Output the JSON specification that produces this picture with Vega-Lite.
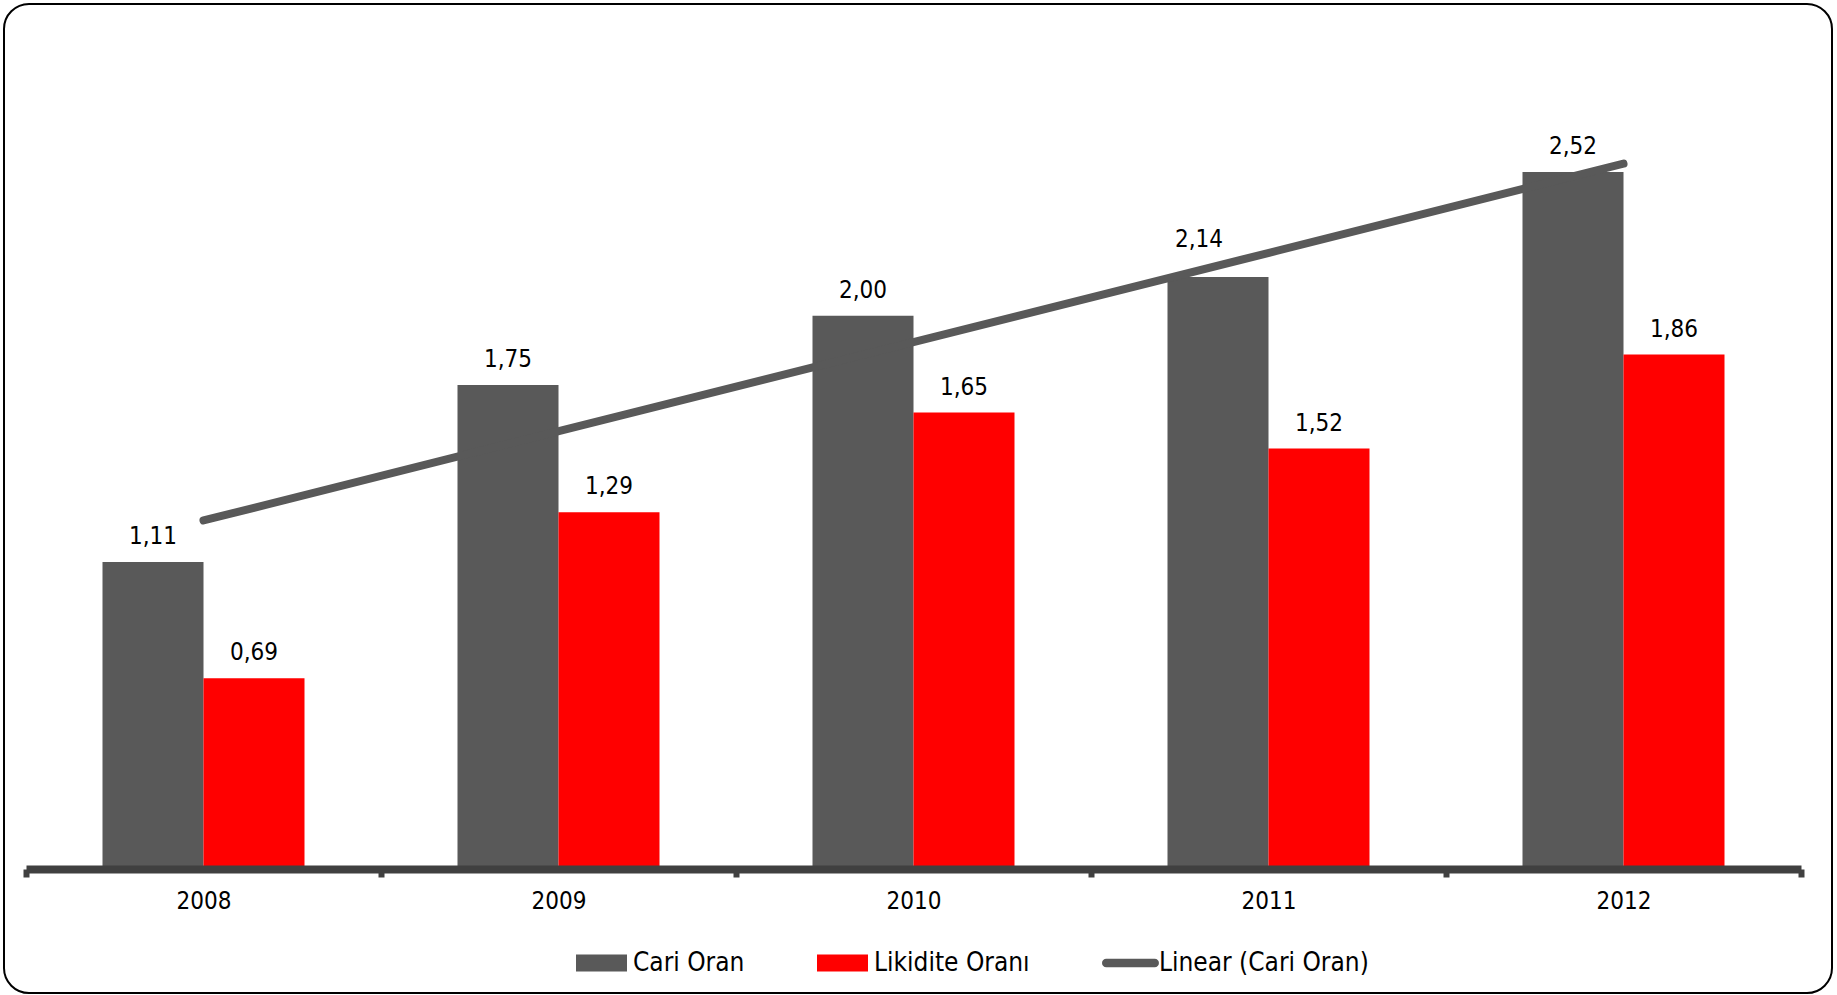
{
  "$schema": "https://vega.github.io/schema/vega-lite/v6.json",
  "width": 1828,
  "height": 989,
  "autosize": "none",
  "padding": {"left": 4, "top": 4, "right": 5, "bottom": 2},
  "background": "white",
  "config": {
    "view": {"stroke": "#000000", "strokeWidth": 2, "cornerRadius": 25, "fill": "white"},
    "font": "DejaVu Sans Condensed",
    "locale": {"number": {"decimal": ",", "thousands": ".", "grouping": [3], "currency": ["", " TL"]}}
  },
  "datasets": {
    "bars": [
      {"year": "2008", "series": "Cari Oran", "value": 1.11},
      {"year": "2008", "series": "Likidite Oranı", "value": 0.69},
      {"year": "2009", "series": "Cari Oran", "value": 1.75},
      {"year": "2009", "series": "Likidite Oranı", "value": 1.29},
      {"year": "2010", "series": "Cari Oran", "value": 2.00},
      {"year": "2010", "series": "Likidite Oranı", "value": 1.65},
      {"year": "2011", "series": "Cari Oran", "value": 2.14},
      {"year": "2011", "series": "Likidite Oranı", "value": 1.52},
      {"year": "2012", "series": "Cari Oran", "value": 2.52},
      {"year": "2012", "series": "Likidite Oranı", "value": 1.86}
    ],
    "trend": [
      {"year": "2008", "trend": 1.26},
      {"year": "2012", "trend": 2.55}
    ]
  },
  "encoding": {
    "x": {
      "field": "year",
      "type": "nominal",
      "title": null,
      "scale": {"range": [22, 1797], "paddingInner": 0, "paddingOuter": 0},
      "axis": {
        "offset": -124,
        "zindex": 1,
        "domainColor": "#404040",
        "domainWidth": 8,
        "tickBand": "extent",
        "tickColor": "#404040",
        "tickWidth": 6,
        "tickSize": 8,
        "labelAngle": 0,
        "labelFont": "DejaVu Sans Condensed",
        "labelFontSize": 24,
        "labelColor": "#000000",
        "labelPadding": 12
      }
    }
  },
  "layer": [
    {
      "data": {"name": "bars"},
      "mark": {"type": "bar"},
      "encoding": {
        "xOffset": {"field": "series", "type": "nominal", "scale": {"paddingInner": 0, "paddingOuter": 0.7574}},
        "y": {"field": "value", "type": "quantitative", "axis": null, "scale": {"domain": [-0.4483, 3.1273], "nice": false, "zero": false}},
        "color": {
          "field": "series",
          "type": "nominal",
          "scale": {
            "domain": ["Cari Oran", "Likidite Oranı", "Linear (Cari Oran)"],
            "range": ["#595959", "#FF0000", "#595959"]
          },
          "legend": {
            "title": null,
            "orient": "none",
            "direction": "horizontal",
            "legendX": 572,
            "legendY": 942,
            "padding": 0,
            "columnPadding": 72,
            "symbolSize": 1156,
            "labelOffset": 23,
            "labelFont": "DejaVu Sans Condensed",
            "labelFontSize": 26,
            "labelColor": "#000000",
            "labelLimit": 400,
            "encode": {
              "symbols": {
                "update": {
                  "shape": {"signal": "datum.value === 'Linear (Cari Oran)' ? 'M-0.75,-0.25H2.1A0.25,0.25,0,0,1,2.1,0.25H-0.75A0.25,0.25,0,0,1,-0.75,-0.25Z' : 'M-1,-0.5H2V0.5H-1Z'"},
                  "fill": {"scale": "color", "field": "value"},
                  "strokeWidth": {"value": 0},
                  "opacity": {"value": 1}
                }
              }
            }
          }
        }
      }
    },
    {
      "data": {"name": "bars"},
      "transform": [{"filter": "!(datum.year === '2011' && datum.series === 'Cari Oran')"}],
      "mark": {"type": "text", "baseline": "alphabetic", "dy": -18, "fontSize": 24, "color": "#000000", "font": "DejaVu Sans Condensed"},
      "encoding": {
        "xOffset": {"field": "series", "type": "nominal"},
        "y": {"field": "value", "type": "quantitative"},
        "text": {"field": "value", "type": "quantitative", "format": ".2f"}
      }
    },
    {
      "data": {"name": "bars"},
      "transform": [{"filter": "datum.year === '2011' && datum.series === 'Cari Oran'"}],
      "mark": {"type": "text", "baseline": "alphabetic", "dy": -30, "dx": -19, "fontSize": 24, "color": "#000000", "font": "DejaVu Sans Condensed"},
      "encoding": {
        "xOffset": {"field": "series", "type": "nominal"},
        "y": {"field": "value", "type": "quantitative"},
        "text": {"field": "value", "type": "quantitative", "format": ".2f"}
      }
    },
    {
      "data": {"name": "trend"},
      "mark": {"type": "line", "strokeWidth": 8, "strokeCap": "round"},
      "encoding": {
        "y": {"field": "trend", "type": "quantitative"},
        "color": {"datum": "Linear (Cari Oran)"}
      }
    }
  ]
}
